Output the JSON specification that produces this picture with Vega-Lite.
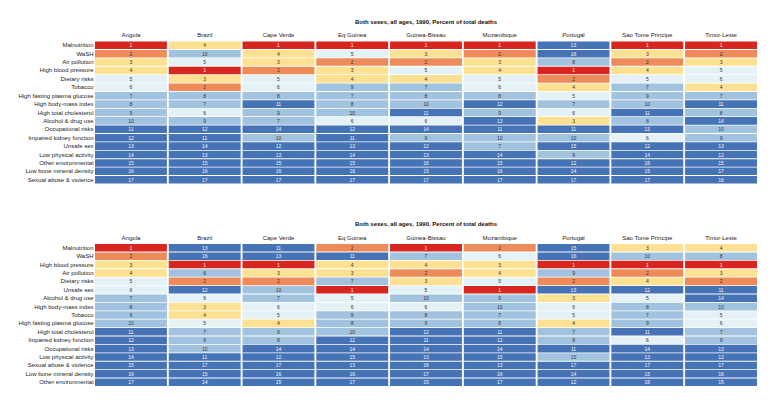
{
 "$schema": "https://vega.github.io/schema/vega-lite/v6.json",
 "padding": {"left": 17, "top": 18.5, "right": 10, "bottom": 10},
 "background": "white",
 "spacing": 36.5,
 "config": {
  "view": {"stroke": null},
  "font": "Liberation Sans",
  "axis": {"domain": false, "ticks": false, "grid": false, "labelFont": "Liberation Sans", "labelFontSize": 6, "labelColor": "#222"},
  "title": {"font": "Liberation Sans", "fontSize": 6, "fontWeight": "bold", "color": "#111", "anchor": "middle", "offset": 7}
 },
 "datasets": {
  "top": [
   {"country":"Angola","risk":"Malnutrition","rank":1},{"country":"Angola","risk":"WaSH","rank":2},{"country":"Angola","risk":"Air pollution","rank":3},{"country":"Angola","risk":"High blood pressure","rank":4},{"country":"Angola","risk":"Dietary risks","rank":5},{"country":"Angola","risk":"Tobacco","rank":6},{"country":"Angola","risk":"High fasting plasma glucose","rank":7},{"country":"Angola","risk":"High body-mass index","rank":8},{"country":"Angola","risk":"High total cholesterol","rank":9},{"country":"Angola","risk":"Alcohol & drug use","rank":10},{"country":"Angola","risk":"Occupational risks","rank":11},{"country":"Angola","risk":"Impaired kidney function","rank":12},{"country":"Angola","risk":"Unsafe sex","rank":13},{"country":"Angola","risk":"Low physical activity","rank":14},{"country":"Angola","risk":"Other environmental","rank":15},{"country":"Angola","risk":"Low bone mineral density","rank":16},{"country":"Angola","risk":"Sexual abuse & violence","rank":17},
   {"country":"Brazil","risk":"Malnutrition","rank":4},{"country":"Brazil","risk":"WaSH","rank":10},{"country":"Brazil","risk":"Air pollution","rank":5},{"country":"Brazil","risk":"High blood pressure","rank":1},{"country":"Brazil","risk":"Dietary risks","rank":3},{"country":"Brazil","risk":"Tobacco","rank":2},{"country":"Brazil","risk":"High fasting plasma glucose","rank":8},{"country":"Brazil","risk":"High body-mass index","rank":7},{"country":"Brazil","risk":"High total cholesterol","rank":6},{"country":"Brazil","risk":"Alcohol & drug use","rank":9},{"country":"Brazil","risk":"Occupational risks","rank":12},{"country":"Brazil","risk":"Impaired kidney function","rank":11},{"country":"Brazil","risk":"Unsafe sex","rank":14},{"country":"Brazil","risk":"Low physical activity","rank":13},{"country":"Brazil","risk":"Other environmental","rank":15},{"country":"Brazil","risk":"Low bone mineral density","rank":16},{"country":"Brazil","risk":"Sexual abuse & violence","rank":17},
   {"country":"Cape Verde","risk":"Malnutrition","rank":1},{"country":"Cape Verde","risk":"WaSH","rank":4},{"country":"Cape Verde","risk":"Air pollution","rank":3},{"country":"Cape Verde","risk":"High blood pressure","rank":2},{"country":"Cape Verde","risk":"Dietary risks","rank":5},{"country":"Cape Verde","risk":"Tobacco","rank":6},{"country":"Cape Verde","risk":"High fasting plasma glucose","rank":8},{"country":"Cape Verde","risk":"High body-mass index","rank":11},{"country":"Cape Verde","risk":"High total cholesterol","rank":9},{"country":"Cape Verde","risk":"Alcohol & drug use","rank":7},{"country":"Cape Verde","risk":"Occupational risks","rank":14},{"country":"Cape Verde","risk":"Impaired kidney function","rank":10},{"country":"Cape Verde","risk":"Unsafe sex","rank":12},{"country":"Cape Verde","risk":"Low physical activity","rank":13},{"country":"Cape Verde","risk":"Other environmental","rank":15},{"country":"Cape Verde","risk":"Low bone mineral density","rank":16},{"country":"Cape Verde","risk":"Sexual abuse & violence","rank":17},
   {"country":"Eq Guinea","risk":"Malnutrition","rank":1},{"country":"Eq Guinea","risk":"WaSH","rank":5},{"country":"Eq Guinea","risk":"Air pollution","rank":2},{"country":"Eq Guinea","risk":"High blood pressure","rank":3},{"country":"Eq Guinea","risk":"Dietary risks","rank":4},{"country":"Eq Guinea","risk":"Tobacco","rank":9},{"country":"Eq Guinea","risk":"High fasting plasma glucose","rank":7},{"country":"Eq Guinea","risk":"High body-mass index","rank":8},{"country":"Eq Guinea","risk":"High total cholesterol","rank":10},{"country":"Eq Guinea","risk":"Alcohol & drug use","rank":6},{"country":"Eq Guinea","risk":"Occupational risks","rank":12},{"country":"Eq Guinea","risk":"Impaired kidney function","rank":11},{"country":"Eq Guinea","risk":"Unsafe sex","rank":13},{"country":"Eq Guinea","risk":"Low physical activity","rank":14},{"country":"Eq Guinea","risk":"Other environmental","rank":15},{"country":"Eq Guinea","risk":"Low bone mineral density","rank":16},{"country":"Eq Guinea","risk":"Sexual abuse & violence","rank":17},
   {"country":"Guinea-Bissau","risk":"Malnutrition","rank":1},{"country":"Guinea-Bissau","risk":"WaSH","rank":3},{"country":"Guinea-Bissau","risk":"Air pollution","rank":2},{"country":"Guinea-Bissau","risk":"High blood pressure","rank":5},{"country":"Guinea-Bissau","risk":"Dietary risks","rank":4},{"country":"Guinea-Bissau","risk":"Tobacco","rank":7},{"country":"Guinea-Bissau","risk":"High fasting plasma glucose","rank":8},{"country":"Guinea-Bissau","risk":"High body-mass index","rank":10},{"country":"Guinea-Bissau","risk":"High total cholesterol","rank":11},{"country":"Guinea-Bissau","risk":"Alcohol & drug use","rank":6},{"country":"Guinea-Bissau","risk":"Occupational risks","rank":14},{"country":"Guinea-Bissau","risk":"Impaired kidney function","rank":9},{"country":"Guinea-Bissau","risk":"Unsafe sex","rank":12},{"country":"Guinea-Bissau","risk":"Low physical activity","rank":13},{"country":"Guinea-Bissau","risk":"Other environmental","rank":16},{"country":"Guinea-Bissau","risk":"Low bone mineral density","rank":15},{"country":"Guinea-Bissau","risk":"Sexual abuse & violence","rank":17},
   {"country":"Mozambique","risk":"Malnutrition","rank":1},{"country":"Mozambique","risk":"WaSH","rank":2},{"country":"Mozambique","risk":"Air pollution","rank":3},{"country":"Mozambique","risk":"High blood pressure","rank":4},{"country":"Mozambique","risk":"Dietary risks","rank":5},{"country":"Mozambique","risk":"Tobacco","rank":6},{"country":"Mozambique","risk":"High fasting plasma glucose","rank":8},{"country":"Mozambique","risk":"High body-mass index","rank":12},{"country":"Mozambique","risk":"High total cholesterol","rank":9},{"country":"Mozambique","risk":"Alcohol & drug use","rank":13},{"country":"Mozambique","risk":"Occupational risks","rank":11},{"country":"Mozambique","risk":"Impaired kidney function","rank":10},{"country":"Mozambique","risk":"Unsafe sex","rank":7},{"country":"Mozambique","risk":"Low physical activity","rank":14},{"country":"Mozambique","risk":"Other environmental","rank":15},{"country":"Mozambique","risk":"Low bone mineral density","rank":16},{"country":"Mozambique","risk":"Sexual abuse & violence","rank":17},
   {"country":"Portugal","risk":"Malnutrition","rank":13},{"country":"Portugal","risk":"WaSH","rank":16},{"country":"Portugal","risk":"Air pollution","rank":8},{"country":"Portugal","risk":"High blood pressure","rank":1},{"country":"Portugal","risk":"Dietary risks","rank":2},{"country":"Portugal","risk":"Tobacco","rank":4},{"country":"Portugal","risk":"High fasting plasma glucose","rank":5},{"country":"Portugal","risk":"High body-mass index","rank":7},{"country":"Portugal","risk":"High total cholesterol","rank":6},{"country":"Portugal","risk":"Alcohol & drug use","rank":3},{"country":"Portugal","risk":"Occupational risks","rank":11},{"country":"Portugal","risk":"Impaired kidney function","rank":10},{"country":"Portugal","risk":"Unsafe sex","rank":15},{"country":"Portugal","risk":"Low physical activity","rank":9},{"country":"Portugal","risk":"Other environmental","rank":12},{"country":"Portugal","risk":"Low bone mineral density","rank":14},{"country":"Portugal","risk":"Sexual abuse & violence","rank":17},
   {"country":"Sao Tome Principe","risk":"Malnutrition","rank":1},{"country":"Sao Tome Principe","risk":"WaSH","rank":3},{"country":"Sao Tome Principe","risk":"Air pollution","rank":2},{"country":"Sao Tome Principe","risk":"High blood pressure","rank":4},{"country":"Sao Tome Principe","risk":"Dietary risks","rank":5},{"country":"Sao Tome Principe","risk":"Tobacco","rank":7},{"country":"Sao Tome Principe","risk":"High fasting plasma glucose","rank":9},{"country":"Sao Tome Principe","risk":"High body-mass index","rank":10},{"country":"Sao Tome Principe","risk":"High total cholesterol","rank":11},{"country":"Sao Tome Principe","risk":"Alcohol & drug use","rank":8},{"country":"Sao Tome Principe","risk":"Occupational risks","rank":13},{"country":"Sao Tome Principe","risk":"Impaired kidney function","rank":6},{"country":"Sao Tome Principe","risk":"Unsafe sex","rank":12},{"country":"Sao Tome Principe","risk":"Low physical activity","rank":14},{"country":"Sao Tome Principe","risk":"Other environmental","rank":16},{"country":"Sao Tome Principe","risk":"Low bone mineral density","rank":15},{"country":"Sao Tome Principe","risk":"Sexual abuse & violence","rank":17},
   {"country":"Timor-Leste","risk":"Malnutrition","rank":1},{"country":"Timor-Leste","risk":"WaSH","rank":2},{"country":"Timor-Leste","risk":"Air pollution","rank":3},{"country":"Timor-Leste","risk":"High blood pressure","rank":5},{"country":"Timor-Leste","risk":"Dietary risks","rank":6},{"country":"Timor-Leste","risk":"Tobacco","rank":4},{"country":"Timor-Leste","risk":"High fasting plasma glucose","rank":7},{"country":"Timor-Leste","risk":"High body-mass index","rank":11},{"country":"Timor-Leste","risk":"High total cholesterol","rank":8},{"country":"Timor-Leste","risk":"Alcohol & drug use","rank":14},{"country":"Timor-Leste","risk":"Occupational risks","rank":10},{"country":"Timor-Leste","risk":"Impaired kidney function","rank":9},{"country":"Timor-Leste","risk":"Unsafe sex","rank":13},{"country":"Timor-Leste","risk":"Low physical activity","rank":12},{"country":"Timor-Leste","risk":"Other environmental","rank":15},{"country":"Timor-Leste","risk":"Low bone mineral density","rank":17},{"country":"Timor-Leste","risk":"Sexual abuse & violence","rank":16}
  ],
  "bottom": [
   {"country":"Angola","risk":"Malnutrition","rank":1},{"country":"Angola","risk":"WaSH","rank":2},{"country":"Angola","risk":"High blood pressure","rank":3},{"country":"Angola","risk":"Air pollution","rank":4},{"country":"Angola","risk":"Dietary risks","rank":5},{"country":"Angola","risk":"Unsafe sex","rank":6},{"country":"Angola","risk":"Alcohol & drug use","rank":7},{"country":"Angola","risk":"High body-mass index","rank":8},{"country":"Angola","risk":"Tobacco","rank":9},{"country":"Angola","risk":"High fasting plasma glucose","rank":10},{"country":"Angola","risk":"High total cholesterol","rank":11},{"country":"Angola","risk":"Impaired kidney function","rank":12},{"country":"Angola","risk":"Occupational risks","rank":13},{"country":"Angola","risk":"Low physical activity","rank":14},{"country":"Angola","risk":"Sexual abuse & violence","rank":15},{"country":"Angola","risk":"Low bone mineral density","rank":16},{"country":"Angola","risk":"Other environmental","rank":17},
   {"country":"Brazil","risk":"Malnutrition","rank":13},{"country":"Brazil","risk":"WaSH","rank":16},{"country":"Brazil","risk":"High blood pressure","rank":1},{"country":"Brazil","risk":"Air pollution","rank":8},{"country":"Brazil","risk":"Dietary risks","rank":2},{"country":"Brazil","risk":"Unsafe sex","rank":12},{"country":"Brazil","risk":"Alcohol & drug use","rank":6},{"country":"Brazil","risk":"High body-mass index","rank":3},{"country":"Brazil","risk":"Tobacco","rank":4},{"country":"Brazil","risk":"High fasting plasma glucose","rank":5},{"country":"Brazil","risk":"High total cholesterol","rank":7},{"country":"Brazil","risk":"Impaired kidney function","rank":9},{"country":"Brazil","risk":"Occupational risks","rank":10},{"country":"Brazil","risk":"Low physical activity","rank":11},{"country":"Brazil","risk":"Sexual abuse & violence","rank":17},{"country":"Brazil","risk":"Low bone mineral density","rank":15},{"country":"Brazil","risk":"Other environmental","rank":14},
   {"country":"Cape Verde","risk":"Malnutrition","rank":11},{"country":"Cape Verde","risk":"WaSH","rank":13},{"country":"Cape Verde","risk":"High blood pressure","rank":1},{"country":"Cape Verde","risk":"Air pollution","rank":3},{"country":"Cape Verde","risk":"Dietary risks","rank":2},{"country":"Cape Verde","risk":"Unsafe sex","rank":10},{"country":"Cape Verde","risk":"Alcohol & drug use","rank":7},{"country":"Cape Verde","risk":"High body-mass index","rank":6},{"country":"Cape Verde","risk":"Tobacco","rank":5},{"country":"Cape Verde","risk":"High fasting plasma glucose","rank":4},{"country":"Cape Verde","risk":"High total cholesterol","rank":9},{"country":"Cape Verde","risk":"Impaired kidney function","rank":8},{"country":"Cape Verde","risk":"Occupational risks","rank":14},{"country":"Cape Verde","risk":"Low physical activity","rank":12},{"country":"Cape Verde","risk":"Sexual abuse & violence","rank":17},{"country":"Cape Verde","risk":"Low bone mineral density","rank":16},{"country":"Cape Verde","risk":"Other environmental","rank":15},
   {"country":"Eq Guinea","risk":"Malnutrition","rank":2},{"country":"Eq Guinea","risk":"WaSH","rank":11},{"country":"Eq Guinea","risk":"High blood pressure","rank":4},{"country":"Eq Guinea","risk":"Air pollution","rank":3},{"country":"Eq Guinea","risk":"Dietary risks","rank":7},{"country":"Eq Guinea","risk":"Unsafe sex","rank":1},{"country":"Eq Guinea","risk":"Alcohol & drug use","rank":5},{"country":"Eq Guinea","risk":"High body-mass index","rank":6},{"country":"Eq Guinea","risk":"Tobacco","rank":9},{"country":"Eq Guinea","risk":"High fasting plasma glucose","rank":8},{"country":"Eq Guinea","risk":"High total cholesterol","rank":10},{"country":"Eq Guinea","risk":"Impaired kidney function","rank":12},{"country":"Eq Guinea","risk":"Occupational risks","rank":14},{"country":"Eq Guinea","risk":"Low physical activity","rank":15},{"country":"Eq Guinea","risk":"Sexual abuse & violence","rank":13},{"country":"Eq Guinea","risk":"Low bone mineral density","rank":16},{"country":"Eq Guinea","risk":"Other environmental","rank":17},
   {"country":"Guinea-Bissau","risk":"Malnutrition","rank":1},{"country":"Guinea-Bissau","risk":"WaSH","rank":7},{"country":"Guinea-Bissau","risk":"High blood pressure","rank":4},{"country":"Guinea-Bissau","risk":"Air pollution","rank":2},{"country":"Guinea-Bissau","risk":"Dietary risks","rank":3},{"country":"Guinea-Bissau","risk":"Unsafe sex","rank":5},{"country":"Guinea-Bissau","risk":"Alcohol & drug use","rank":10},{"country":"Guinea-Bissau","risk":"High body-mass index","rank":6},{"country":"Guinea-Bissau","risk":"Tobacco","rank":8},{"country":"Guinea-Bissau","risk":"High fasting plasma glucose","rank":9},{"country":"Guinea-Bissau","risk":"High total cholesterol","rank":12},{"country":"Guinea-Bissau","risk":"Impaired kidney function","rank":11},{"country":"Guinea-Bissau","risk":"Occupational risks","rank":14},{"country":"Guinea-Bissau","risk":"Low physical activity","rank":13},{"country":"Guinea-Bissau","risk":"Sexual abuse & violence","rank":16},{"country":"Guinea-Bissau","risk":"Low bone mineral density","rank":17},{"country":"Guinea-Bissau","risk":"Other environmental","rank":15},
   {"country":"Mozambique","risk":"Malnutrition","rank":2},{"country":"Mozambique","risk":"WaSH","rank":6},{"country":"Mozambique","risk":"High blood pressure","rank":3},{"country":"Mozambique","risk":"Air pollution","rank":4},{"country":"Mozambique","risk":"Dietary risks","rank":5},{"country":"Mozambique","risk":"Unsafe sex","rank":1},{"country":"Mozambique","risk":"Alcohol & drug use","rank":9},{"country":"Mozambique","risk":"High body-mass index","rank":10},{"country":"Mozambique","risk":"Tobacco","rank":7},{"country":"Mozambique","risk":"High fasting plasma glucose","rank":8},{"country":"Mozambique","risk":"High total cholesterol","rank":11},{"country":"Mozambique","risk":"Impaired kidney function","rank":12},{"country":"Mozambique","risk":"Occupational risks","rank":14},{"country":"Mozambique","risk":"Low physical activity","rank":15},{"country":"Mozambique","risk":"Sexual abuse & violence","rank":13},{"country":"Mozambique","risk":"Low bone mineral density","rank":16},{"country":"Mozambique","risk":"Other environmental","rank":17},
   {"country":"Portugal","risk":"Malnutrition","rank":15},{"country":"Portugal","risk":"WaSH","rank":16},{"country":"Portugal","risk":"High blood pressure","rank":1},{"country":"Portugal","risk":"Air pollution","rank":9},{"country":"Portugal","risk":"Dietary risks","rank":2},{"country":"Portugal","risk":"Unsafe sex","rank":13},{"country":"Portugal","risk":"Alcohol & drug use","rank":3},{"country":"Portugal","risk":"High body-mass index","rank":6},{"country":"Portugal","risk":"Tobacco","rank":5},{"country":"Portugal","risk":"High fasting plasma glucose","rank":4},{"country":"Portugal","risk":"High total cholesterol","rank":7},{"country":"Portugal","risk":"Impaired kidney function","rank":8},{"country":"Portugal","risk":"Occupational risks","rank":11},{"country":"Portugal","risk":"Low physical activity","rank":10},{"country":"Portugal","risk":"Sexual abuse & violence","rank":17},{"country":"Portugal","risk":"Low bone mineral density","rank":14},{"country":"Portugal","risk":"Other environmental","rank":12},
   {"country":"Sao Tome Principe","risk":"Malnutrition","rank":3},{"country":"Sao Tome Principe","risk":"WaSH","rank":10},{"country":"Sao Tome Principe","risk":"High blood pressure","rank":1},{"country":"Sao Tome Principe","risk":"Air pollution","rank":2},{"country":"Sao Tome Principe","risk":"Dietary risks","rank":4},{"country":"Sao Tome Principe","risk":"Unsafe sex","rank":12},{"country":"Sao Tome Principe","risk":"Alcohol & drug use","rank":5},{"country":"Sao Tome Principe","risk":"High body-mass index","rank":8},{"country":"Sao Tome Principe","risk":"Tobacco","rank":7},{"country":"Sao Tome Principe","risk":"High fasting plasma glucose","rank":9},{"country":"Sao Tome Principe","risk":"High total cholesterol","rank":11},{"country":"Sao Tome Principe","risk":"Impaired kidney function","rank":6},{"country":"Sao Tome Principe","risk":"Occupational risks","rank":14},{"country":"Sao Tome Principe","risk":"Low physical activity","rank":13},{"country":"Sao Tome Principe","risk":"Sexual abuse & violence","rank":17},{"country":"Sao Tome Principe","risk":"Low bone mineral density","rank":15},{"country":"Sao Tome Principe","risk":"Other environmental","rank":16},
   {"country":"Timor-Leste","risk":"Malnutrition","rank":4},{"country":"Timor-Leste","risk":"WaSH","rank":8},{"country":"Timor-Leste","risk":"High blood pressure","rank":1},{"country":"Timor-Leste","risk":"Air pollution","rank":3},{"country":"Timor-Leste","risk":"Dietary risks","rank":2},{"country":"Timor-Leste","risk":"Unsafe sex","rank":11},{"country":"Timor-Leste","risk":"Alcohol & drug use","rank":14},{"country":"Timor-Leste","risk":"High body-mass index","rank":10},{"country":"Timor-Leste","risk":"Tobacco","rank":5},{"country":"Timor-Leste","risk":"High fasting plasma glucose","rank":6},{"country":"Timor-Leste","risk":"High total cholesterol","rank":7},{"country":"Timor-Leste","risk":"Impaired kidney function","rank":9},{"country":"Timor-Leste","risk":"Occupational risks","rank":13},{"country":"Timor-Leste","risk":"Low physical activity","rank":12},{"country":"Timor-Leste","risk":"Sexual abuse & violence","rank":17},{"country":"Timor-Leste","risk":"Low bone mineral density","rank":16},{"country":"Timor-Leste","risk":"Other environmental","rank":15}
  ]
 },
 "vconcat": [
  {
   "data": {"name": "top"},
   "title": "Both sexes, all ages, 1990, Percent of total deaths",
   "width": 662,
   "height": 142,
   "encoding": {
    "x": {"field": "country", "type": "nominal", "sort": ["Angola","Brazil","Cape Verde","Eq Guinea","Guinea-Bissau","Mozambique","Portugal","Sao Tome Principe","Timor-Leste"], "scale": {"paddingInner": 0.025, "paddingOuter": 0}, "axis": {"orient": "top", "title": null, "labelAngle": 0, "labelPadding": 4}},
    "y": {"field": "risk", "type": "nominal", "sort": ["Malnutrition","WaSH","Air pollution","High blood pressure","Dietary risks","Tobacco","High fasting plasma glucose","High body-mass index","High total cholesterol","Alcohol & drug use","Occupational risks","Impaired kidney function","Unsafe sex","Low physical activity","Other environmental","Low bone mineral density","Sexual abuse & violence"], "scale": {"paddingInner": 0.1, "paddingOuter": 0}, "axis": {"title": null, "labelPadding": 2}}
   },
   "layer": [
    {"mark": {"type": "rect"}, "encoding": {"color": {"field": "rank", "type": "quantitative", "scale": {"type": "threshold", "domain": [2, 3, 5, 7, 11], "range": ["#d7261f", "#ee8b5a", "#fde192", "#e4f1f7", "#a2c3df", "#4673b6"]}, "legend": null}}},
    {"mark": {"type": "text", "fontSize": 5, "font": "Liberation Sans"}, "encoding": {"text": {"field": "rank", "type": "quantitative"}, "color": {"condition": {"test": "datum.rank == 1 || datum.rank >= 11", "value": "#f4f4f4"}, "value": "#333333"}}}
   ]
  },
  {
   "data": {"name": "bottom"},
   "title": "Both sexes, all ages, 1990, Percent of total deaths",
   "width": 662,
   "height": 142,
   "encoding": {
    "x": {"field": "country", "type": "nominal", "sort": ["Angola","Brazil","Cape Verde","Eq Guinea","Guinea-Bissau","Mozambique","Portugal","Sao Tome Principe","Timor-Leste"], "scale": {"paddingInner": 0.025, "paddingOuter": 0}, "axis": {"orient": "top", "title": null, "labelAngle": 0, "labelPadding": 4}},
    "y": {"field": "risk", "type": "nominal", "sort": ["Malnutrition","WaSH","High blood pressure","Air pollution","Dietary risks","Unsafe sex","Alcohol & drug use","High body-mass index","Tobacco","High fasting plasma glucose","High total cholesterol","Impaired kidney function","Occupational risks","Low physical activity","Sexual abuse & violence","Low bone mineral density","Other environmental"], "scale": {"paddingInner": 0.1, "paddingOuter": 0}, "axis": {"title": null, "labelPadding": 2}}
   },
   "layer": [
    {"mark": {"type": "rect"}, "encoding": {"color": {"field": "rank", "type": "quantitative", "scale": {"type": "threshold", "domain": [2, 3, 5, 7, 11], "range": ["#d7261f", "#ee8b5a", "#fde192", "#e4f1f7", "#a2c3df", "#4673b6"]}, "legend": null}}},
    {"mark": {"type": "text", "fontSize": 5, "font": "Liberation Sans"}, "encoding": {"text": {"field": "rank", "type": "quantitative"}, "color": {"condition": {"test": "datum.rank == 1 || datum.rank >= 11", "value": "#f4f4f4"}, "value": "#333333"}}}
   ]
  }
 ]
}
